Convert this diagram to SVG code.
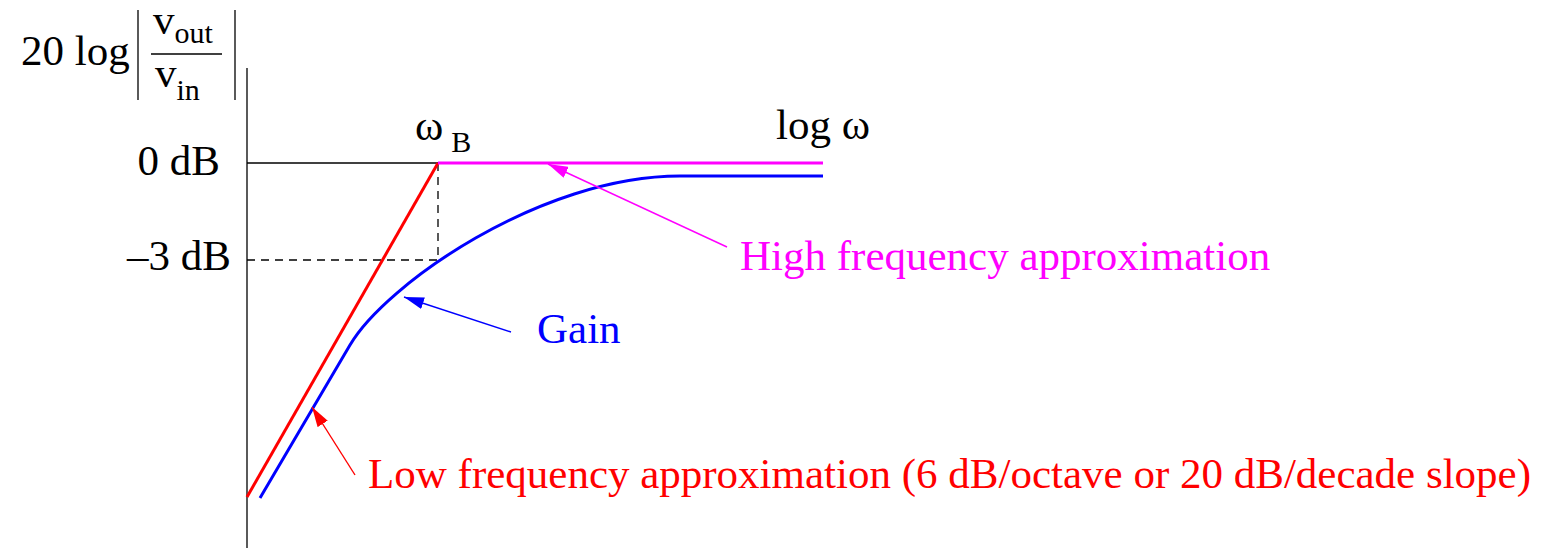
<svg xmlns="http://www.w3.org/2000/svg" width="1545" height="548" viewBox="0 0 1545 548">
<style>
text{font-family:"Liberation Serif","Times New Roman",serif;font-size:43px}
.k{fill:#000}
.r{fill:#ff0000}
.b{fill:#0000ff}
.m{fill:#ff00ff}
.ax{stroke:#000;stroke-width:1.3;fill:none}
.dash{stroke:#000;stroke-width:1.3;stroke-dasharray:8 6;fill:none}
.thick{stroke-width:3;fill:none}
.thin{stroke-width:1.4;fill:none}
</style>
<defs>
<marker id="ar" viewBox="0 0 20 12" refX="20" refY="6" markerWidth="20" markerHeight="12" markerUnits="userSpaceOnUse" orient="auto"><path d="M0,0 L20,6 L0,12 Z" fill="#ff0000"/></marker>
<marker id="ab" viewBox="0 0 20 12" refX="20" refY="6" markerWidth="20" markerHeight="12" markerUnits="userSpaceOnUse" orient="auto"><path d="M0,0 L20,6 L0,12 Z" fill="#0000ff"/></marker>
<marker id="am" viewBox="0 0 20 12" refX="20" refY="6" markerWidth="20" markerHeight="12" markerUnits="userSpaceOnUse" orient="auto"><path d="M0,0 L20,6 L0,12 Z" fill="#ff00ff"/></marker>
</defs>
<g id="axes">
<line class="ax" x1="247" y1="68" x2="247" y2="548"/>
<line class="ax" x1="247" y1="163" x2="438" y2="163"/>
<line class="dash" x1="438" y1="163" x2="438" y2="260"/>
<line class="dash" x1="247" y1="260" x2="438" y2="260"/>
</g>
<g id="ylabel">
<text class="k" x="21" y="65">20 log</text>
<line class="ax" x1="138" y1="10" x2="138" y2="100"/>
<line class="ax" x1="235" y1="10" x2="235" y2="100"/>
<line class="ax" x1="151" y1="54" x2="222" y2="54"/>
<text class="k" x="153" y="34">v<tspan font-size="30" dy="9">out</tspan></text>
<text class="k" x="155" y="87">v<tspan font-size="30" dy="13">in</tspan></text>
</g>
<g id="ticks">
<text class="k" x="220" y="175" text-anchor="end">0 dB</text>
<text class="k" x="231" y="270" text-anchor="end">–3 dB</text>
<text class="k" x="415" y="140">ω<tspan font-size="30" dx="8" dy="12">B</tspan></text>
<text class="k" x="776" y="139">log ω</text>
</g>
<g id="low-freq">
<line class="thick" stroke="#ff0000" x1="247" y1="497" x2="438" y2="163"/>
</g>
<g id="high-freq">
<line class="thick" stroke="#ff00ff" x1="438" y1="163" x2="823" y2="163"/>
</g>
<g id="gain">
<path class="thick" stroke="#0000ff" d="M260,498 L350,345 C385,285 540,176 680,176 L823,176"/>
</g>
<g id="connectors">
<line class="thin" stroke="#ff00ff" x1="727" y1="247" x2="548" y2="164" marker-end="url(#am)"/>
<line class="thin" stroke="#0000ff" x1="511" y1="332" x2="404" y2="297" marker-end="url(#ab)"/>
<line class="thin" stroke="#ff0000" x1="355" y1="475" x2="312" y2="407" marker-end="url(#ar)"/>
</g>
<g id="labels">
<text class="m" x="740" y="270">High frequency approximation</text>
<text class="b" x="537" y="343">Gain</text>
<text class="r" x="368" y="488">Low frequency approximation (6 dB/octave or 20 dB/decade slope)</text>
</g>
</svg>
